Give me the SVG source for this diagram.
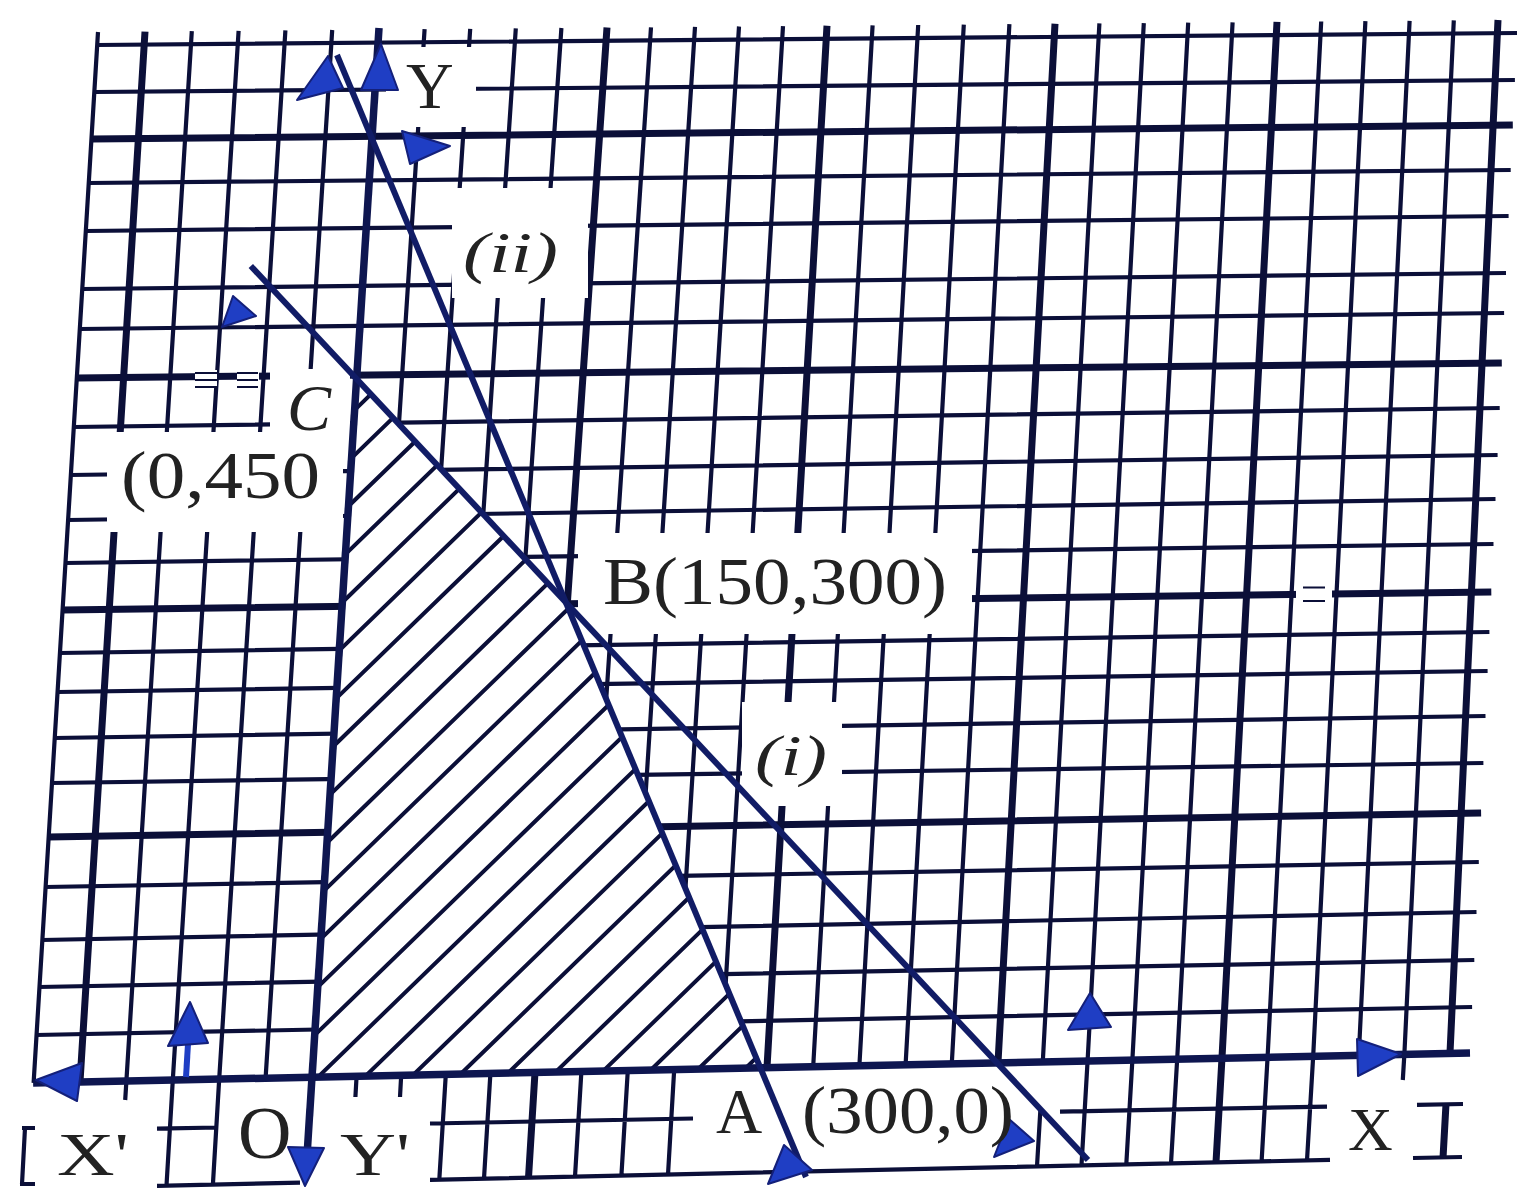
<svg xmlns="http://www.w3.org/2000/svg" width="1519" height="1189" viewBox="0 0 1519 1189">
<defs>
<style>
.g{stroke:#0b0f38;stroke-width:4.2;fill:none}
.t{stroke:#0b0f38;stroke-width:7;fill:none}
.f{stroke:#0b0f38;stroke-width:2.2;fill:none}
.ax{stroke:#0e1650;stroke-width:7.5;fill:none}
.ln{stroke:#111c66;stroke-width:6;fill:none}
.h{stroke:#0b0f38;stroke-width:4;fill:none}
.ar{fill:#1f3ec4;stroke:#14207a;stroke-width:2;stroke-linejoin:round}
.w{fill:#fff;stroke:none}
text{font-family:"Liberation Serif","Times New Roman",serif;fill:#222}
.it{font-style:italic}
</style>
<clipPath id="reg"><polygon points="312,1077 762,1068 566,601 356.6,379"/></clipPath>
</defs>
<rect width="1519" height="1189" fill="#fff"/>
<g id="grid">
<path class="g" d="M97 45L1517 33M94.1 92L1514.9 80M88.5 183L1510.7 170M85.6 231L1508.6 216M82 289L1506 273M79.5 329L1504.1 313M73.5 427L1499.7 408M70.5 475L1497.6 455M67.7 520L1495.5 499M65.1 563L1493.5 544M59.5 653L1489.4 632M57.1 692L1487.6 671M54.3 738L1485.5 716M51.5 783L1483.4 763M45.1 887L1478.8 862M41.8 940L1476.5 912M38.9 987L1474.3 960M36 1035L1472.1 1007"/>
<path class="t" d="M91.2 139L1512.8 125M76.5 378L1501.8 363M62.2 610L1491.3 592M48.2 837L1481.1 813"/>
<path class="g" d="M98 32L33.6 1083M191.8 31.2L126.4 1081M238.6 30.8L172.8 1080M285.4 30.4L219.2 1079M332.2 30L265.6 1078M424.6 29.2L356.6 1076M470.2 28.8L401.2 1075M515.8 28.4L445.8 1074.3M561.4 28L490.4 1073.3M651 27.3L581.4 1071.4M695 26.9L627.8 1070.4M739 26.5L674.2 1069.4M783 26.1L720.6 1068.4M872.6 25.4L813.2 1066.5M918.2 25L859.4 1065.5M963.8 24.6L905.6 1064.5M1009.4 24.2L951.8 1063.6M1099.4 23.4L1042.8 1061.6M1143.8 23.1L1087.6 1060.7M1188.2 22.7L1132.4 1059.7M1232.6 22.3L1177.2 1058.8M1321.2 21.5L1267.6 1056.8M1365.4 21.1L1313.2 1055.9M1409.6 20.8L1358.8 1054.9M1453.8 20.4L1404.4 1053.9"/>
<path class="t" d="M145 31.6L80 1082M607 27.6L535 1072.4M827 25.8L767 1067.5M1055 23.8L998 1062.6M1277 21.9L1222 1057.8M1498 20L1450 1053"/>
</g>
<g id="bottom-band">
<path class="g" d="M157 1128.6L218 1127.5M430 1123.5L693 1118.5M1060 1111.6L1327 1106.6M1417 1104.9L1463 1104M157 1185.8L300 1182.7M430 1179.8L1330 1159.9M1413 1158L1462 1157M172.8 1080L166.5 1185.6M219.2 1079L212.9 1184.6M126.4 1081L125.2 1100M356.6 1076L355.4 1097M401.2 1075L400 1097M445.8 1074.3L439.3 1179.6M490.4 1073.3L484 1178.6M581.4 1071.4L575 1176.6M627.8 1070.4L621.4 1175.6M674.2 1069.4L668 1174.6M1040.3 1111L1037 1166.4M1087.6 1060.7L1081.5 1165.4M1132.4 1059.7L1126.3 1164.4M1177.2 1058.8L1171 1163.4M1267.6 1056.8L1261.6 1161.4M1313.2 1055.9L1307 1160.4M1404.4 1053.9L1402.8 1080M25 1128L22 1184M22 1128L35 1128M20 1184L35 1184"/>
<path class="t" d="M535 1072.4L528.5 1177.6M1222 1057.8L1216 1162.4M1446 1104L1443 1158"/>
</g>
<g id="label-boxes">
<rect class="w" x="386" y="47" width="90" height="80"/>
<rect class="w" x="452" y="188" width="136" height="110"/>
<rect class="w" x="270" y="369" width="80" height="63"/>
<rect class="w" x="107" y="432" width="236" height="100"/>
<rect class="w" x="578" y="533" width="394" height="101"/>
<rect class="w" x="742" y="702" width="100" height="104"/>
<rect class="w" x="195" y="370" width="22" height="18"/>
<rect class="w" x="237" y="370" width="22" height="18"/>
<rect class="w" x="1296" y="583" width="36" height="21"/>
<path class="f" d="M195 373L217 373M195 380L217 380M195 387L217 387M237 373L258 373M237 380L258 380M237 387L258 387M1303 587.5L1325 587.5M1303 601L1325 601"/>
</g>
<g id="feasible-region">
<polygon class="w" points="312,1077 762,1068 566,601 356.6,379"/>
<path class="h" clip-path="url(#reg)" d="M300 1500.4L800 1015.4M300 1455.3L800 970.3M300 1410.2L800 925.2M300 1365.1L800 880.1M300 1320L800 835M300 1274.9L800 789.9M300 1229.8L800 744.8M300 1184.7L800 699.7M300 1139.6L800 654.6M300 1094.5L800 609.5M300 1049.4L800 564.4M300 1004.3L800 519.3M300 959.1L800 474.1M300 914L800 429M300 868.9L800 383.9M300 823.8L800 338.8M300 778.7L800 293.7M300 733.6L800 248.6M300 688.5L800 203.5M300 643.4L800 158.4M300 598.3L800 113.3M300 553.2L800 68.2M300 508.1L800 23.1M300 463L800 -22"/>
</g>
<g id="connectors">
<path class="ax" d="M33.1 1083L1470 1053"/>
<path class="ax" d="M379 28L306.4 1165"/>
<path id="line-i" class="ln" d="M250.8 266L1088 1160"/>
<path id="line-ii" class="ln" d="M337 55L806 1177"/>
<path d="M188 1044L186 1077" stroke="#1f3ec4" stroke-width="6"/>
<polygon class="ar" points="381,44 398,90 361,90"/>
<polygon class="ar" points="328,56 297,100 343,88"/>
<polygon class="ar" points="450,146 402,131 410,164"/>
<polygon class="ar" points="222,327 233,296 256,316"/>
<polygon class="ar" points="994,1157 1009,1119 1034,1141"/>
<polygon class="ar" points="190,1002 168,1046 208,1043"/>
<polygon class="ar" points="1090,993 1068,1030 1111,1027"/>
<polygon class="ar" points="36,1080 82,1063 77,1101"/>
<polygon class="ar" points="1401,1054 1357,1039 1358,1076"/>
<polygon class="ar" points="305,1186 288,1147 324,1148"/>
<polygon class="ar" points="768,1184 784,1145 812,1170"/>
</g>
<g id="labels">
<text x="406" y="108" font-size="66">Y</text>
<text class="it" x="463" y="272" font-size="58" textLength="95" lengthAdjust="spacingAndGlyphs">(ii)</text>
<text class="it" x="287" y="430" font-size="66">C</text>
<text x="121" y="498" font-size="68" textLength="199" lengthAdjust="spacingAndGlyphs">(0,450</text>
<text x="603" y="604" font-size="68" textLength="344" lengthAdjust="spacingAndGlyphs">B(150,300)</text>
<text class="it" x="755" y="775" font-size="58" textLength="72" lengthAdjust="spacingAndGlyphs">(i)</text>
<text x="716" y="1133" font-size="64">A</text>
<text x="802" y="1133" font-size="68" textLength="212" lengthAdjust="spacingAndGlyphs">(300,0)</text>
<text x="57" y="1175" font-size="62" textLength="72" lengthAdjust="spacingAndGlyphs">X'</text>
<text x="238" y="1158" font-size="74">O</text>
<text x="340" y="1175" font-size="62" textLength="70" lengthAdjust="spacingAndGlyphs">Y'</text>
<text x="1348" y="1150" font-size="62">X</text>
</g>
</svg>
